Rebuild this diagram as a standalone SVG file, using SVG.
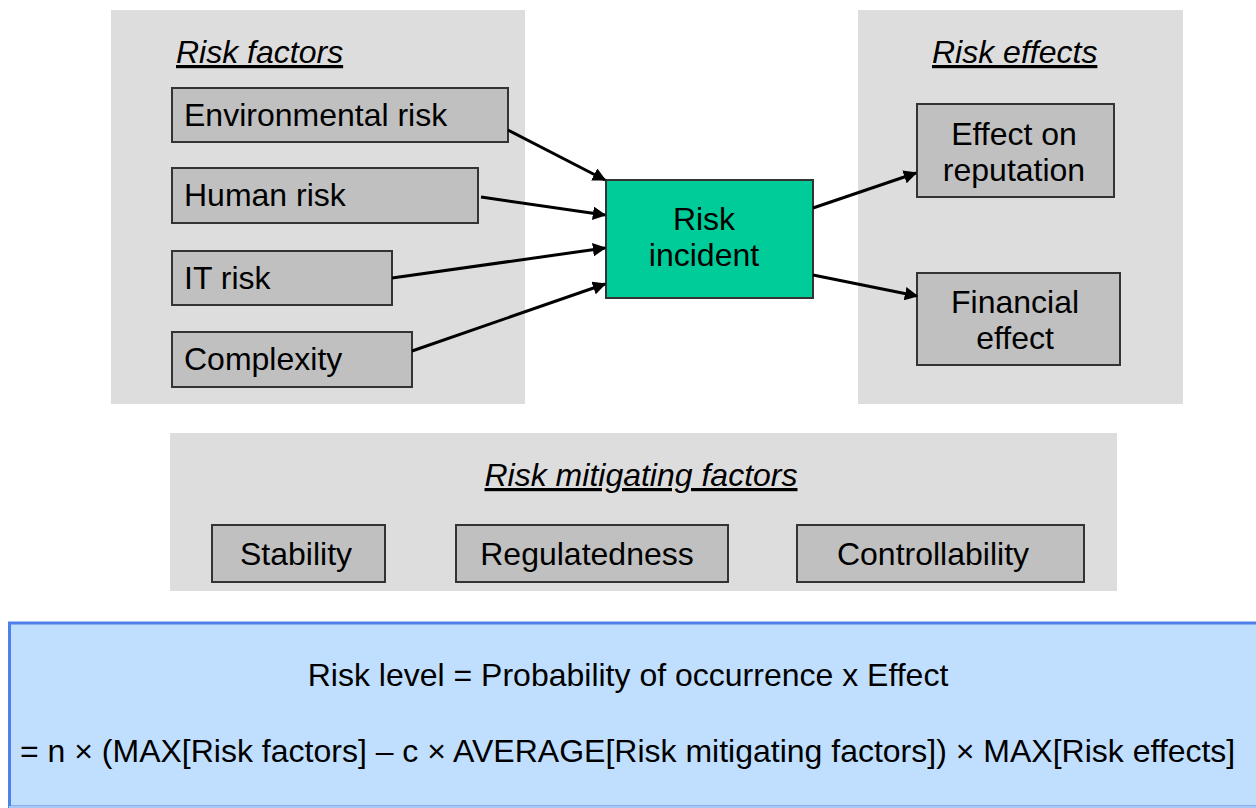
<svg xmlns="http://www.w3.org/2000/svg" width="1256" height="808" viewBox="0 0 1256 808">
<style>
text{font-family:"Liberation Sans",Arial,sans-serif;font-size:32px;fill:#000}
.panel{fill:#dddddd}
.box{fill:#c0c0c0;stroke:#333;stroke-width:2}
.title{font-style:italic;text-decoration:underline}
.c{text-anchor:middle}
.conn{stroke:#000;stroke-width:3;fill:none;marker-end:url(#ah)}
</style>
<defs>
<marker id="ah" viewBox="0 0 10 10" refX="9" refY="5" markerWidth="4.5" markerHeight="4.5" orient="auto" markerUnits="strokeWidth">
<path d="M0,0 L10,5 L0,10 z" fill="#000"/>
</marker>
</defs>
<rect width="1256" height="808" fill="#fff"/>
<g id="panel-factors"><rect class="panel" x="111" y="10" width="414" height="394"/><text class="title" x="176" y="63">Risk factors</text></g>
<g id="panel-effects"><rect class="panel" x="858" y="10" width="325" height="394"/><text class="title" x="932" y="63">Risk effects</text></g>
<g id="panel-mitigating"><rect class="panel" x="170" y="433" width="947" height="158"/><text class="title c" x="641" y="486">Risk mitigating factors</text></g>
<g id="env"><rect class="box" x="172" y="88" width="336" height="54"/><text x="184" y="126">Environmental risk</text></g>
<g id="human"><rect class="box" x="172" y="168" width="306" height="55"/><text x="184" y="206">Human risk</text></g>
<g id="it"><rect class="box" x="172" y="251" width="220" height="54"/><text x="184" y="289">IT risk</text></g>
<g id="complexity"><rect class="box" x="172" y="332" width="240" height="55"/><text x="184" y="370">Complexity</text></g>
<g id="incident"><rect x="606" y="180" width="207" height="118" fill="#00cc99" stroke="#333" stroke-width="2"/><text class="c" x="704" y="230">Risk</text><text class="c" x="704" y="266">incident</text></g>
<g id="reputation"><rect class="box" x="917" y="104" width="197" height="93"/><text class="c" x="1014" y="145">Effect on</text><text class="c" x="1014" y="181">reputation</text></g>
<g id="financial"><rect class="box" x="917" y="273" width="203" height="92"/><text class="c" x="1015" y="313">Financial</text><text class="c" x="1015" y="349">effect</text></g>
<g id="stability"><rect class="box" x="212" y="525" width="173" height="57"/><text class="c" x="296" y="565">Stability</text></g>
<g id="regulatedness"><rect class="box" x="456" y="525" width="272" height="57"/><text class="c" x="587" y="565">Regulatedness</text></g>
<g id="controllability"><rect class="box" x="797" y="525" width="287" height="57"/><text class="c" x="933" y="565">Controllability</text></g>
<g id="connectors">
<line class="conn" x1="508" y1="130" x2="605" y2="180"/>
<line class="conn" x1="481" y1="197" x2="605" y2="215"/>
<line class="conn" x1="392" y1="278" x2="605" y2="248"/>
<line class="conn" x1="412" y1="351" x2="605" y2="284"/>
<line class="conn" x1="813" y1="208" x2="916" y2="173"/>
<line class="conn" x1="813" y1="275" x2="917" y2="296"/>
</g>
<g id="formula">
<rect x="9.5" y="623" width="1260" height="184" fill="#c0dfff" stroke="#4f7fea" stroke-width="3"/>
<line x1="9" y1="807" x2="1256" y2="807" stroke="#a8c8f4" stroke-width="2"/>
<text class="c" x="628" y="686">Risk level = Probability of occurrence x Effect</text>
<text x="20" y="762">= n × (MAX[Risk factors] – c × AVERAGE[Risk mitigating factors]) × MAX[Risk effects]</text>
</g>
</svg>
